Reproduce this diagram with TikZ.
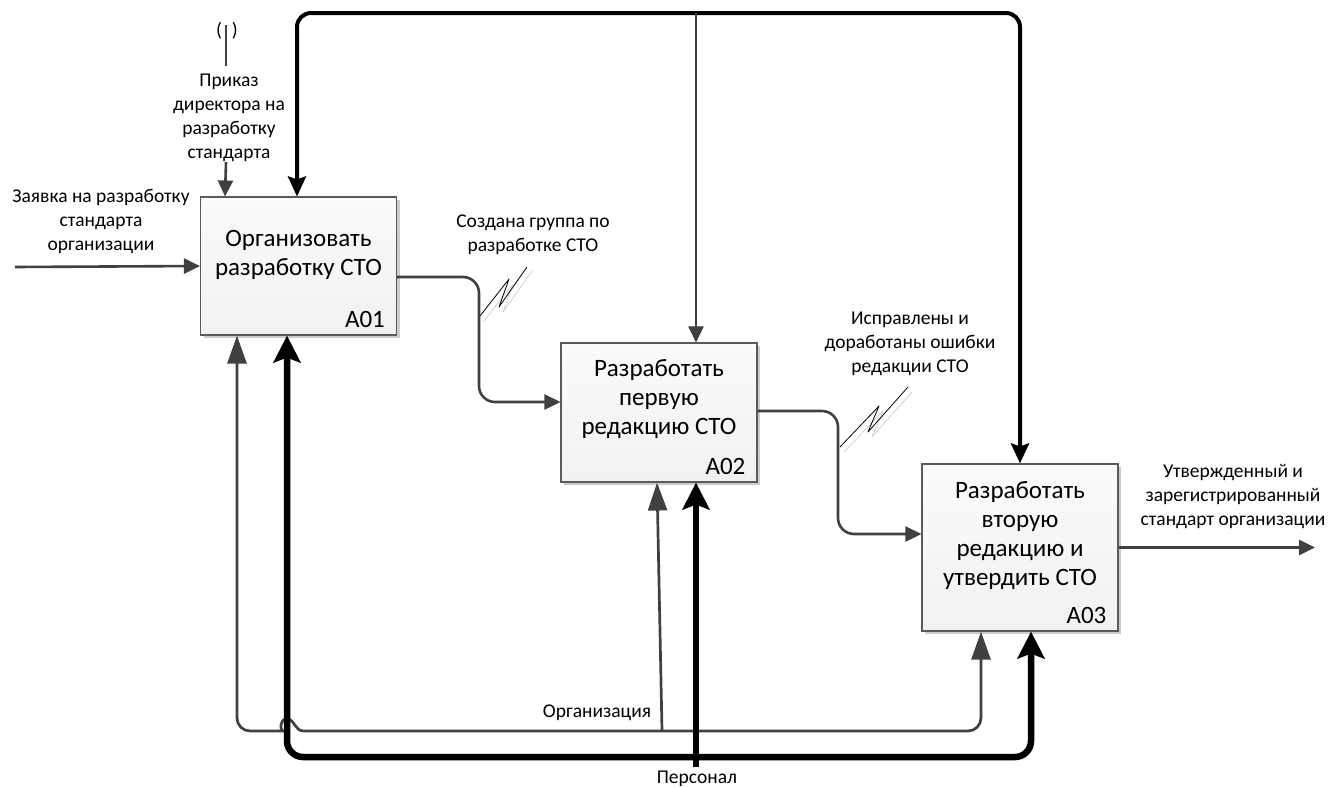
\documentclass[tikz,border=0pt]{standalone}
\usepackage{fontspec}
\setmainfont{Carlito}
\usetikzlibrary{arrows.meta,shadows,calc}

\definecolor{ln}{HTML}{404040}
\definecolor{bx}{HTML}{5A5A5A}

\begin{document}
\begin{tikzpicture}[x=1pt,y=-1pt,
  proc/.style={draw=bx, line width=1.1pt, top color=gray!3, bottom color=gray!11,
    minimum width=196pt, inner sep=0pt,
    drop shadow={shadow xshift=3pt, shadow yshift=-3pt, fill=gray!40, opacity=1}},
  ttl/.style={font=\fontsize{25}{29}\selectfont, align=center, inner sep=0pt},
  num/.style={font=\fontsize{25}{25}\selectfont, anchor=base east, inner sep=0pt},
  lbl/.style={font=\fontsize{19.5}{24}\selectfont, align=center, inner sep=0pt},
  flow/.style={draw=ln, line width=2.6pt, -{Triangle[length=16pt,width=15pt]}},
  ctlk/.style={draw=black, line width=4pt},
  mechg/.style={draw=ln, line width=2.7pt},
  mechk/.style={draw=black, line width=6.5pt},
  tipS/.tip={Triangle[length=16pt,width=15pt]},
  tipSK/.tip={Stealth[length=20pt,width=18pt,inset=3pt]},
  tipL/.tip={Triangle[length=28pt,width=19pt]},
  tipLK/.tip={Stealth[length=27pt,width=27pt,inset=5pt]},
  squig/.style={draw=black, line width=0.8pt, line join=round},
  squigsh/.style={draw=gray!35, line width=0.8pt, line join=round}
]
\useasboundingbox (0,0) rectangle (1335,787);

% activity boxes
\node[proc, minimum height=138pt] (A01) at (298.5,266) {};
\node[proc, minimum height=139pt] (A02) at (659,412.5) {};
\node[proc, minimum height=167pt] (A03) at (1020,547.5) {};

\node[ttl] (A01t) at (298.5,255) {Организовать\\разработку СТО};
\node[ttl] (A02t) at (659,399) {Разработать\\первую\\редакцию СТО};
\node[ttl] (A03t) at (1020,536) {Разработать\\вторую\\редакцию и\\утвердить СТО};

\node[num] (A01n) at ([xshift=-12pt,yshift=8pt]A01.south east) {A01};
\node[num] (A02n) at ([xshift=-12pt,yshift=8pt]A02.south east) {A02};
\node[num] (A03n) at ([xshift=-12pt,yshift=8pt]A03.south east) {A03};

% ports on the boxes
\coordinate (c1g) at ([xshift=-73.5pt]A01.north);
\coordinate (c1k) at ([xshift=-1.5pt]A01.north);
\coordinate (o1)  at ([yshift=-11pt]A01.east);
\coordinate (m1g) at ([xshift=-61.5pt]A01.south);
\coordinate (m1k) at ([xshift=-11.5pt]A01.south);
\coordinate (c2)  at ([xshift=37pt]A02.north);
\coordinate (i2)  at ([yshift=10.5pt]A02.west);
\coordinate (o2)  at ([yshift=1.5pt]A02.east);
\coordinate (m2g) at ([xshift=-2pt]A02.south);
\coordinate (m2k) at ([xshift=37pt]A02.south);
\coordinate (c3)  at (A03.north);
\coordinate (i3)  at ([yshift=13.5pt]A03.west);
\coordinate (m3g) at ([xshift=-39pt]A03.south);
\coordinate (m3k) at ([xshift=11pt]A03.south);

% free ends and bends
\coordinate (in0) at (15,267);
\coordinate (out0) at (1315,547.5);
\coordinate (tun) at (226,25);
\coordinate (tunb) at (226,66);
\coordinate (ordb) at (226,162);
\coordinate (top) at (660,13);
\coordinate (t2) at (696,13);
\coordinate (b1) at (479,340);
\coordinate (b2) at (838,470);
\coordinate (hA) at (270,731);
\coordinate (hB) at (304,731);
\coordinate (og) at (662,731);
\coordinate (bk) at (660,757);
\coordinate (pk) at (696,767);

% labels
\node[lbl] (Lin) at (101,221) {Заявка на разработку\\стандарта\\организации};
\node[lbl] (Ltun) at (227,31) {(\,\,\,)};
\node[lbl] (Lord) at (229,118) {Приказ\\директора на\\разработку\\стандарта};
\node[lbl] (L12) at (533,235) {Создана группа по\\разработке СТО};
\node[lbl] (L23) at (910,344) {Исправлены и\\доработаны ошибки\\редакции СТО};
\node[lbl] (Lout) at (1233,497) {Утвержденный и\\зарегистрированный\\стандарт организации};
\node[lbl] (Lorg) at (597,713) {Организация};
\node[lbl] (Lper) at (697,779) {Персонал};

% inputs and outputs
\draw[flow] (in0) -- (A01.west);
\draw[flow, rounded corners=16pt] (o1) -| (b1) |- (i2);
\draw[flow, rounded corners=16pt] (o2) -| (b2) |- (i3);
\draw[flow] (A03.east) -- (out0);

% controls
\draw[draw=ln, line width=2.6pt] (tun) -- (tunb);
\draw[flow] (ordb) -- (c1g);
\draw[ctlk, tipSK-tipSK, rounded corners=14pt] (c1k) |- (top) -| (c3);
\draw[flow] (t2) -- (c2);

% mechanisms
\draw[mechg, tipL-tipL] (m1g) [rounded corners=13pt] |- (hA) [sharp corners]
  .. controls (280,731) and (279,719) .. (287,719)
  .. controls (295,719) and (294,731) .. (hB)
  [rounded corners=13pt] -| (m3g);
\draw[mechk, tipLK-tipLK, rounded corners=16pt] (m1k) |- (bk) -| (m3k);
\draw[mechk, -tipLK] (pk) -- (m2k);
\draw[mechg] (hB) -- (og);
\draw[mechg, -tipL] (og) -- (m2g);

% squiggles tying labels to arrows
\draw[squigsh] (484,321) -- (513,284) -- (503,312) -- (532,271);
\draw[squig] (480,316) -- (509,279) -- (499,307) -- (527,267);
\draw[squigsh] (844,452) -- (883,411) -- (872,437) -- (912,392);
\draw[squig] (840,447) -- (879,406) -- (868,432) -- (908,387);
\end{tikzpicture}
\end{document}
